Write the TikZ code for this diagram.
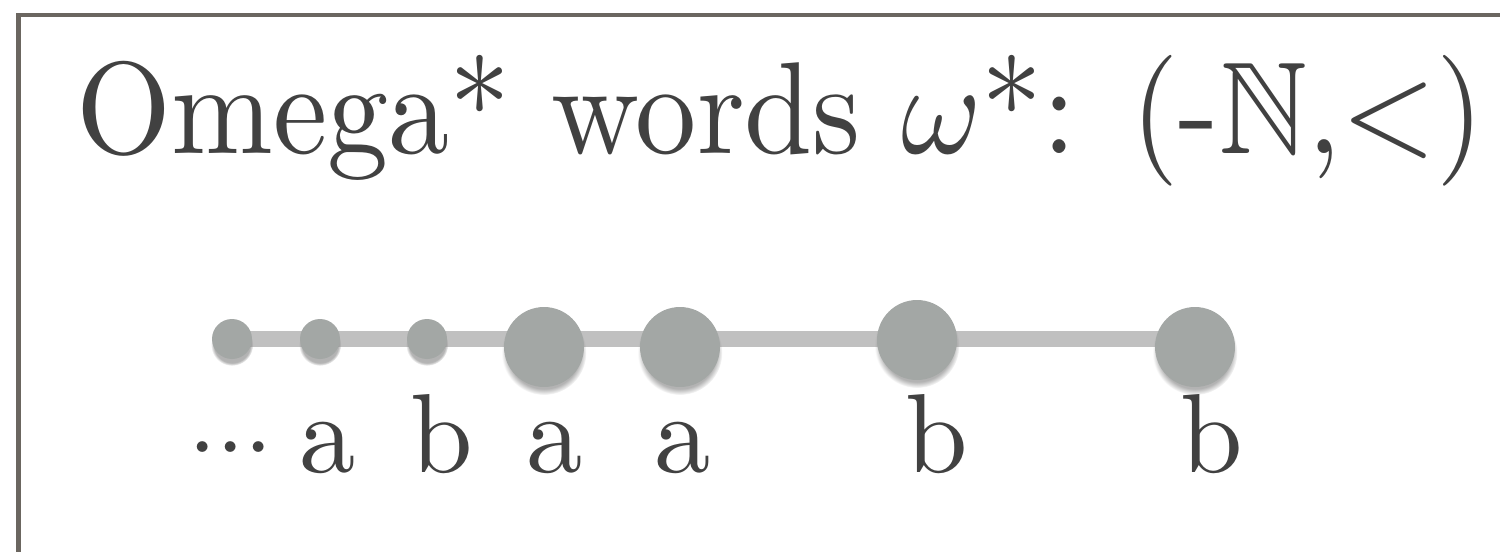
\documentclass[tikz,border=0pt]{standalone}
\usepackage{fontspec}
\usepackage{amssymb}
\usetikzlibrary{shadows,backgrounds}

\definecolor{inkgray}{HTML}{414141}
\definecolor{framegray}{HTML}{6B6660}
\definecolor{dotgray}{HTML}{A3A7A5}
\definecolor{linegray}{HTML}{C0C0C0}

\begin{document}
\begin{tikzpicture}[
  x=0.02cm, y=-0.02cm,
  dot/.style={circle, fill=dotgray, inner sep=0pt, minimum size=0.8cm,
    circular drop shadow={shadow xshift=0pt, shadow yshift=-3pt, shadow scale=1.06, opacity=0.6}},
  bigdot/.style={dot, minimum size=1.6cm},
  track/.style={draw=linegray, line width=0.32cm},
  letter/.style={anchor=base, inner sep=0pt, text=inkgray},
  heading/.style={anchor=base west, inner sep=0pt, text=inkgray}
]
\useasboundingbox (0,0) rectangle (1500,551);
\clip (0,0) rectangle (1500,551);

% Frame (runs off the right and bottom edges)
\draw[framegray, line width=2.8pt] (18.5,600) -- (18.5,15) -- (1560,15);

% Title
\node[heading] (title) at (76,153) {\scalebox{6.95}[7.45]{Omega* words $\omega$*: (-$\mathbb{N}$,$<$)}};

% Positions of the word
\node[dot] (d1) at (232,339) {};
\node[dot] (d2) at (320,339) {};
\node[dot] (d3) at (427,339) {};
\node[bigdot] (d4) at (544,347) {};
\node[bigdot] (d5) at (680,347) {};
\node[bigdot] (d6) at (917,340) {};
\node[bigdot] (d7) at (1195,347) {};

% Order line behind the positions
\begin{scope}[on background layer]
\draw[track] (d1.center) -- (d1.center -| d7.center);
\end{scope}

% Letters
\node[letter] (l1) at (231,472) {\scalebox{5.8}{${\cdot}{\cdot}{\cdot}$}};
\foreach \x/\t [count=\i from 2] in {328/a, 442/b, 555/a, 683/a, 937/b, 1212/b}
  \node[letter] (l\i) at (\x,472) {\scalebox{6.4}{\t}};

\end{tikzpicture}
\end{document}
